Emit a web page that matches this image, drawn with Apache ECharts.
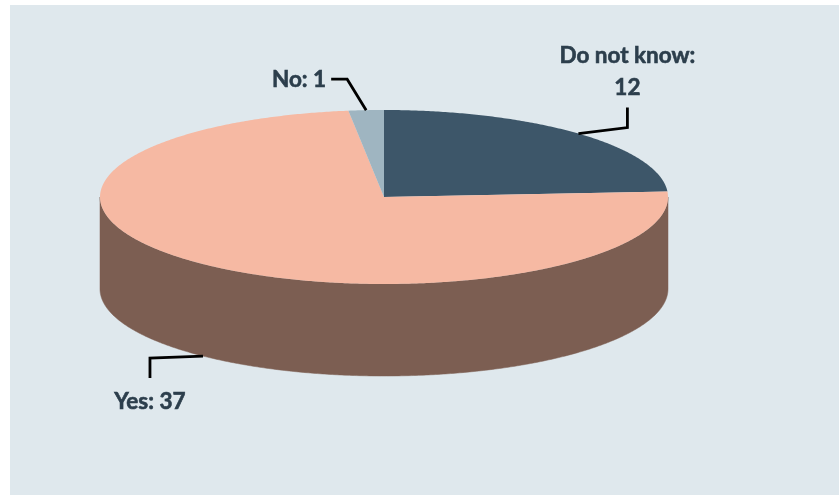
<!DOCTYPE html>
<html>
<head>
<meta charset="utf-8">
<style>
  html, body { margin: 0; padding: 0; background: #ffffff; }
  #chart { width: 839px; height: 495px; }
</style>
<script src="https://cdn.jsdelivr.net/npm/echarts@6/dist/echarts.min.js"></script>
</head>
<body>
<div id="chart"></div>
<script>
// Survey answers, in clockwise order from twelve o'clock
const categories = ['Do not know', 'Yes', 'No'];
const values = [12, 37, 1];
const topColors = ['#3d5669', '#f6b9a3', '#9fb5c1'];
const wallColors = ['#2b3d4a', '#7c5e52', '#6f818b'];

// Pie geometry: an ellipse with a vertical wall below it
const PIE = { cx: 384, cy: 197, rx: 284, ry: 87, depth: 92 };

// Leader elbows and label placement, relative to each slice's rim midpoint
const callouts = [
  { bend: [49, -6], end: [49, -26], text: [49, -62], align: 'center', onWall: false },
  { bend: [-53, 2], end: [-53, 22], text: [-53, 46], align: 'center', onWall: true },
  { bend: [-19, -31], end: [-35, -31], text: [-40, -30], align: 'right', onWall: false }
];

const total = values.reduce((a, b) => a + b, 0);
const startShares = values.map((_, i) => values.slice(0, i).reduce((a, b) => a + b, 0) / total);

// Clockwise angle from the top of the ellipse to a screen point
function rim(angle, drop) {
  return [
    PIE.cx + PIE.rx * Math.sin(angle),
    PIE.cy - PIE.ry * Math.cos(angle) + (drop || 0)
  ];
}

function arcPoints(a0, a1, drop) {
  const steps = Math.max(2, Math.ceil((a1 - a0) / (Math.PI / 360)));
  const pts = [];
  for (let i = 0; i <= steps; i++) {
    pts.push(rim(a0 + (a1 - a0) * i / steps, drop));
  }
  return pts;
}

function renderSlice(params, api) {
  const i = params.dataIndex;
  const a0 = startShares[i] * 2 * Math.PI;
  const a1 = a0 + api.value(0) / total * 2 * Math.PI;
  const mid = (a0 + a1) / 2;
  const children = [];

  // The wall only shows along the front half of the rim
  const w0 = Math.max(a0, Math.PI / 2);
  const w1 = Math.min(a1, Math.PI * 1.5);
  if (w1 > w0) {
    const wall = arcPoints(w0, w1, 0).concat(arcPoints(w0, w1, PIE.depth).reverse());
    children.push({
      type: 'polygon',
      z2: 1,
      shape: { points: wall },
      style: { fill: wallColors[i], stroke: wallColors[i], lineWidth: 0.5 }
    });
  }

  children.push({
    type: 'polygon',
    z2: 2,
    shape: { points: [[PIE.cx, PIE.cy]].concat(arcPoints(a0, a1, 0)) },
    style: { fill: topColors[i] }
  });

  const c = callouts[i];
  const anchor = rim(mid, c.onWall ? PIE.depth : 0);
  const at = (d) => [anchor[0] + d[0], anchor[1] + d[1]];
  children.push({
    type: 'polyline',
    z2: 3,
    shape: { points: [anchor, at(c.bend), at(c.end)] },
    style: { fill: null, stroke: '#000000', lineWidth: 2.8, lineJoin: 'miter' }
  });

  const t = at(c.text);
  children.push({
    type: 'text',
    z2: 4,
    style: {
      x: t[0],
      y: t[1],
      text: api.value(1),
      fill: '#2c3e4c',
      stroke: '#2c3e4c',
      lineWidth: 0.6,
      font: '700 22.5px Lato, "Open Sans", sans-serif',
      lineHeight: 32,
      align: c.align,
      verticalAlign: 'middle'
    }
  });

  return { type: 'group', children: children };
}

// "Do not know" wraps onto a second line, the shorter names stay on one
const labelTexts = categories.map((name, i) =>
  name.length > 6 ? name + ':\n' + values[i] : name + ': ' + values[i]
);

const chart = echarts.init(document.getElementById('chart'), null, { renderer: 'canvas' });
chart.setOption({
  animation: false,
  backgroundColor: '#ffffff',
  graphic: [{
    type: 'rect',
    z: -1,
    silent: true,
    shape: { x: 10, y: 5, width: 829, height: 490 },
    style: { fill: '#dfe8ed' }
  }],
  series: [{
    type: 'custom',
    coordinateSystem: 'none',
    renderItem: renderSlice,
    silent: true,
    data: values.map((v, i) => [v, labelTexts[i]]),
    dimensions: [{ name: 'value', type: 'number' }, { name: 'label', type: 'ordinal' }]
  }]
});
</script>
</body>
</html>
